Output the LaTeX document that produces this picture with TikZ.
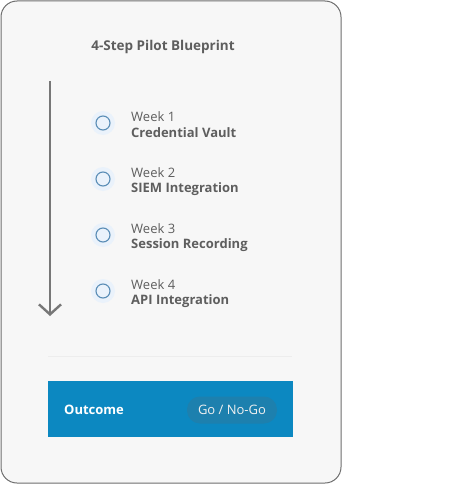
\documentclass[tikz,border=0pt]{standalone}
\usepackage{fontspec}
\setmainfont{Open Sans}
\usetikzlibrary{arrows.meta}
\definecolor{cardfill}{HTML}{F7F7F7}
\definecolor{cardedge}{HTML}{6E6E6E}
\definecolor{inkgray}{HTML}{5E5E5E}
\definecolor{arrowgray}{HTML}{777777}
\definecolor{dotblue}{HTML}{5A8DB6}
\definecolor{halo}{HTML}{EAF2FB}
\definecolor{outblue}{HTML}{0C88C1}
\definecolor{pillblue}{HTML}{1D80AE}
\tikzset{
  week/.style={anchor=west, inner sep=0pt, font=\fontsize{13}{15}\selectfont, text=inkgray},
  task/.style={anchor=west, inner sep=0pt, font=\fontsize{13}{15}\selectfont\bfseries, text=inkgray},
  dot/.style={circle, draw=dotblue, line width=1.1pt, minimum size=14pt, inner sep=0pt},
}
\begin{document}
\begin{tikzpicture}[x=1pt, y=-1pt]
  \useasboundingbox (0,0) rectangle (473,484);
  % Card
  \draw[cardedge, fill=cardfill, line width=1pt, rounded corners=16pt] (1,1) rectangle (341,483);
  \node[font=\fontsize{13.5}{15}\selectfont\bfseries, text=inkgray] (title) at (163,47) {4-Step Pilot Blueprint};

  % Timeline arrow
  \coordinate (top) at (50,81);
  \coordinate (bottom) at (50,316);
  \draw[arrowgray, line width=2.8pt, -{Straight Barb[length=10pt, width=22pt, line width=2.4pt]}] (top) -- (bottom);

  % Week 1
  \fill[halo] (103,123) circle (12pt);
  \node[dot] (d1) at (103,123) {};
  \node[week] (w1) at (131,117) {Week 1};
  \node[task] (t1) at (131,133) {Credential Vault};
  % Week 2
  \fill[halo] (103,179) circle (12pt);
  \node[dot] (d2) at (103,179) {};
  \node[week] (w2) at (131,173) {Week 2};
  \node[task] (t2) at (131,189) {SIEM Integration};
  % Week 3
  \fill[halo] (103,235) circle (12pt);
  \node[dot] (d3) at (103,235) {};
  \node[week] (w3) at (131,229) {Week 3};
  \node[task] (t3) at (131,245) {Session Recording};
  % Week 4
  \fill[halo] (103,291) circle (12pt);
  \node[dot] (d4) at (103,291) {};
  \node[week] (w4) at (131,285) {Week 4};
  \node[task] (t4) at (131,301) {API Integration};

  % Separator
  \draw[black!7, line width=1pt] (48,356) -- (292,356);

  % Outcome bar
  \fill[outblue] (48,381) rectangle (293,437);
  \node[anchor=west, inner sep=0pt, font=\fontsize{13}{15}\selectfont\bfseries, text=white] (outcome) at (64,410) {Outcome};
  \node[fill=pillblue, rounded corners=13pt, minimum width=90pt, minimum height=27pt, inner sep=0pt,
        font=\fontsize{13}{15}\selectfont, text=white!94!black] (verdict) at (232,410) {Go / No-Go};
\end{tikzpicture}
\end{document}
